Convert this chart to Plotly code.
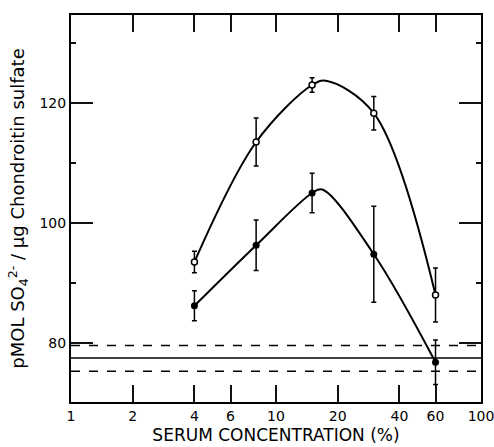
import plotly.graph_objects as go

# Data
conc = [4, 8, 15, 30, 60]
open_vals = [93.5, 113.5, 123.0, 118.3, 88.0]
open_err = [1.8, 4.0, 1.2, 2.8, 4.5]
filled_vals = [86.2, 96.3, 105.0, 94.8, 76.8]
filled_err = [2.5, 4.2, 3.3, 8.0, 3.7]

# hand-drawn smooth curves
open_curve_x = [4, 8, 15, 17.5, 30, 60]
open_curve_y = [93.5, 113.5, 123.0, 123.7, 118.3, 88.0]
filled_curve_x = [4, 8, 15, 16.8, 30, 60]
filled_curve_y = [86.2, 96.3, 105.0, 105.6, 94.8, 76.8]

# control band (solid mean, dashed limits)
control_mean = 77.5
control_hi = 79.6
control_lo = 75.3

x_ticks = [1, 2, 4, 6, 10, 20, 40, 60, 100]
x_ticklabels = ["1", "2", "4", "6", "10", "20", "40", "60", "100"]
y_ticks = [80, 100, 120]
y_minor = [90, 110, 130]

X_RANGE = [0, 2]
Y_RANGE = [70.17, 134.67]
TICK_COLOR = "#111111"

fig = go.Figure()

fig.add_trace(go.Scatter(x=open_curve_x, y=open_curve_y, mode="lines",
                         line=dict(color="black", width=2, shape="spline", smoothing=1.0),
                         hoverinfo="skip", showlegend=False))
fig.add_trace(go.Scatter(x=filled_curve_x, y=filled_curve_y, mode="lines",
                         line=dict(color="black", width=2, shape="spline", smoothing=1.0),
                         hoverinfo="skip", showlegend=False))

fig.add_trace(go.Scatter(x=conc, y=open_vals, mode="markers",
                         marker=dict(symbol="circle", size=6, color="white",
                                     line=dict(color="black", width=1.5)),
                         error_y=dict(type="data", array=open_err, color="black",
                                      thickness=1.5, width=2.5),
                         showlegend=False))
fig.add_trace(go.Scatter(x=conc, y=filled_vals, mode="markers",
                         marker=dict(symbol="circle", size=7, color="black"),
                         error_y=dict(type="data", array=filled_err, color="black",
                                      thickness=1.5, width=2.5),
                         showlegend=False))

fig.add_hline(y=control_mean, line=dict(color="black", width=1.5))
fig.add_hline(y=control_hi, line=dict(color="black", width=1.5, dash="dash"))
fig.add_hline(y=control_lo, line=dict(color="black", width=1.5, dash="dash"))

# invisible trace to activate mirrored axes
fig.add_trace(go.Scatter(x=[10], y=[100], xaxis="x2", yaxis="y2", mode="markers",
                         marker=dict(opacity=0), hoverinfo="skip", showlegend=False))

font_family = "DejaVu Sans, Liberation Sans, sans-serif"

fig.update_layout(
    width=494, height=447,
    margin=dict(l=71, r=13, t=15, b=45),
    paper_bgcolor="white", plot_bgcolor="white",
    font=dict(family=font_family, color="black", size=14),
    xaxis=dict(
        type="log", range=X_RANGE,
        tickmode="array", tickvals=x_ticks, ticktext=x_ticklabels,
        ticks="inside", ticklen=17, tickwidth=2, tickcolor=TICK_COLOR,
        showline=True, linecolor="black", linewidth=2,
        showgrid=False, zeroline=False, automargin=False,
        ticklabeloverflow="allow",
        tickfont=dict(size=14, family=font_family),
        title=dict(text="SERUM CONCENTRATION (%)", font=dict(size=17), standoff=6),
    ),
    yaxis=dict(
        range=Y_RANGE,
        tickmode="array", tickvals=y_ticks,
        ticks="inside", ticklen=22, tickwidth=2, tickcolor=TICK_COLOR,
        minor=dict(tickvals=y_minor, ticks="inside", ticklen=5, tickwidth=2,
                   tickcolor=TICK_COLOR),
        showline=True, linecolor="black", linewidth=2,
        showgrid=False, zeroline=False, automargin=False,
        tickfont=dict(size=14, family=font_family),
        title=dict(text="pMOL SO<sub>4</sub><sup>2-</sup> / μg Chondroitin sulfate",
                   font=dict(size=18), standoff=10),
    ),
    xaxis2=dict(
        type="log", range=X_RANGE, overlaying="x", side="top",
        tickmode="array", tickvals=x_ticks, showticklabels=False,
        ticks="inside", ticklen=17, tickwidth=2, tickcolor=TICK_COLOR,
        showline=True, linecolor="black", linewidth=2,
        showgrid=False, zeroline=False, automargin=False,
    ),
    yaxis2=dict(
        range=Y_RANGE, overlaying="y", side="right",
        tickmode="array", tickvals=y_ticks, showticklabels=False,
        ticks="inside", ticklen=22, tickwidth=2, tickcolor=TICK_COLOR,
        minor=dict(tickvals=y_minor, ticks="inside", ticklen=5, tickwidth=2,
                   tickcolor=TICK_COLOR),
        showline=True, linecolor="black", linewidth=2,
        showgrid=False, zeroline=False, automargin=False,
    ),
)

fig.write_html("out.html")
